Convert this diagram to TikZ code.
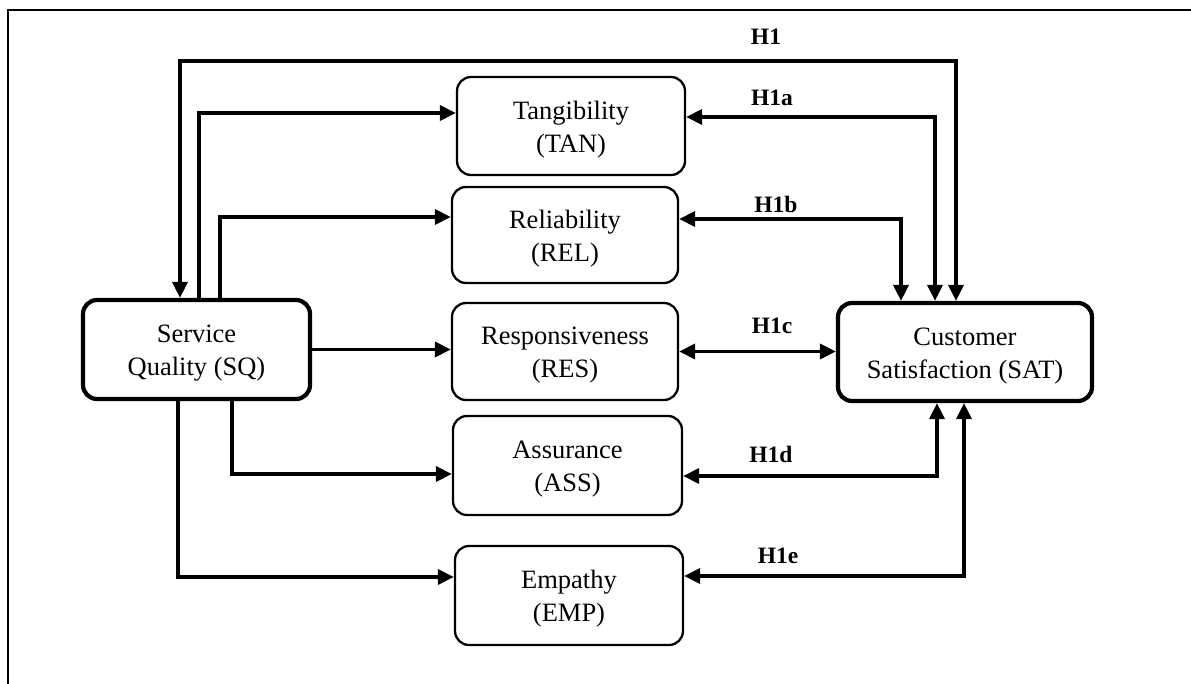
\documentclass[tikz,border=0pt]{standalone}
\usepackage{fontspec}
\setmainfont{Liberation Serif}
\usetikzlibrary{arrows.meta}
\newcommand{\topgap}{\rule{0pt}{25pt}}
\begin{document}
\begin{tikzpicture}[x=1pt,y=-1pt,
  box/.style={draw,rounded corners=14pt,line width=2.3pt,align=center,
    font=\fontsize{26.5}{33}\selectfont,inner sep=0pt},
  mainbox/.style={box,line width=4.2pt},
  arr/.style={line width=3.5pt,-{Triangle[length=16pt,width=15pt]}},
  both/.style={line width=3.5pt,{Triangle[length=16pt,width=15pt]}-{Triangle[length=16pt,width=15pt]}},
  hlab/.style={font=\fontsize{23.5}{26}\bfseries\selectfont,anchor=base,inner sep=0pt}]
\useasboundingbox (0,0) rectangle (1191,684);
\draw[line width=2.4pt] (8,684) -- (8,10) -- (1191,10);

\node[mainbox,minimum width=227pt,minimum height=99pt] (SQ) at (196.5,349.5) {\topgap Service\\Quality (SQ)};
\node[mainbox,minimum width=254pt,minimum height=98pt] (SAT) at (965,352) {\topgap Customer\\Satisfaction (SAT)};
\node[box,minimum width=228pt,minimum height=98pt] (TAN) at (571,126) {\topgap Tangibility\\(TAN)};
\node[box,minimum width=226pt,minimum height=96pt] (REL) at (565,235) {\topgap Reliability\\(REL)};
\node[box,minimum width=226pt,minimum height=97pt] (RES) at (565,351.5) {\topgap Responsiveness\\(RES)};
\node[box,minimum width=229pt,minimum height=99pt] (ASS) at (567.5,465.5) {\topgap Assurance\\(ASS)};
\node[box,minimum width=228pt,minimum height=99pt] (EMP) at (569,595.5) {\topgap Empathy\\(EMP)};

\coordinate (h1top) at (568,61);

% Service quality to dimensions
\draw[arr] ([xshift=2.5pt]SQ.north) |- ([yshift=13pt]TAN.west);
\draw[arr] ([xshift=23.5pt]SQ.north) |- ([yshift=18pt]REL.west);
\draw[arr] (SQ.east) -- (SQ.east -| RES.west);
\draw[arr] ([xshift=35.5pt]SQ.south) |- ([yshift=-8.5pt]ASS.west);
\draw[arr] ([xshift=-18.5pt]SQ.south) |- ([yshift=18.5pt]EMP.west);

% H1
\draw[both] ([xshift=-16.5pt]SQ.north) |- (h1top) -| ([xshift=-9pt]SAT.north);
% dimensions to satisfaction
\draw[both] ([yshift=9pt]TAN.east) -| ([xshift=-30pt]SAT.north);
\draw[both] ([yshift=16pt]REL.east) -| ([xshift=-64pt]SAT.north);
\draw[both] (RES.east) -- (RES.east -| SAT.west);
\draw[both] ([yshift=-10.5pt]ASS.east) -| ([xshift=-28pt]SAT.south);
\draw[both] ([yshift=19.5pt]EMP.east) -| ([xshift=-1pt]SAT.south);

\node[hlab] (L1) at (766,45) {H1};
\node[hlab] (L1a) at (772,106) {H1a};
\node[hlab] (L1b) at (776,213) {H1b};
\node[hlab] (L1c) at (772,334) {H1c};
\node[hlab] (L1d) at (771,462) {H1d};
\node[hlab] (L1e) at (778,563) {H1e};
\end{tikzpicture}
\end{document}
